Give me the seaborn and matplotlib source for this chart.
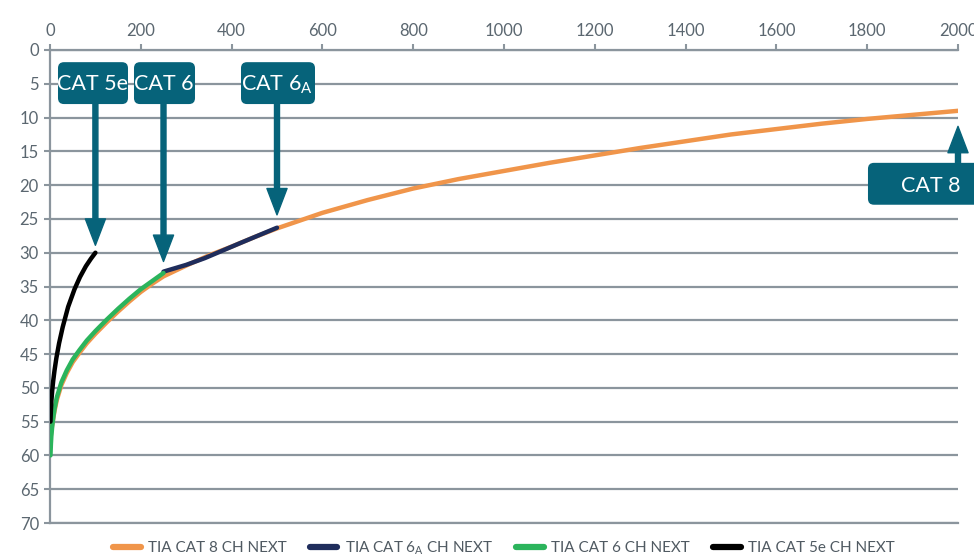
import matplotlib
matplotlib.use("Agg")
import matplotlib.pyplot as plt
import seaborn as sns
import pandas as pd
from matplotlib.patches import FancyBboxPatch

# NEXT limit curves (MHz vs dB)
freq_cat8 = [1, 2, 3, 5, 7, 10, 15, 25, 37, 50, 65, 81, 100, 125, 150, 175, 200, 225, 250,
             300, 350, 400, 450, 500, 600, 700, 800, 900, 1000, 1100, 1200, 1300, 1400,
             1500, 1600, 1700, 1800, 1900, 2000]
next_cat8 = [57.5, 57.0, 56.3, 55.4, 54.6, 53.4, 51.8, 49.6, 47.8, 46.2, 44.8, 43.4, 42.0, 40.3,
             38.7, 37.2, 35.8, 34.6, 33.5, 31.9, 30.4, 29.1, 27.7, 26.4, 24.1, 22.2, 20.5,
             19.1, 17.9, 16.7, 15.6, 14.5, 13.5, 12.5, 11.7, 10.9, 10.2, 9.6, 9.0]

freq_cat6a = [250, 300, 341, 418, 500]
next_cat6a = [32.8, 31.8, 30.8, 28.6, 26.3]

freq_cat6 = [1, 2, 3, 5, 7, 10, 15, 25, 37, 50, 65, 81, 100, 125, 150, 175, 200, 225, 250]
next_cat6 = [60.0, 58.3, 57.1, 55.6, 54.5, 53.1, 51.4, 49.2, 47.4, 45.8, 44.4, 43.0, 41.6,
             39.9, 38.3, 36.8, 35.4, 34.2, 33.0]

freq_cat5e = [1, 2, 3, 5, 7, 10, 14, 20, 28, 40, 54, 66, 79, 90, 100]
next_cat5e = [55.0, 53.3, 52.0, 50.3, 49.0, 47.4, 45.6, 43.4, 41.0, 38.0, 35.4, 33.6, 32.0,
              30.9, 30.0]

labels = ["TIA CAT 8 CH NEXT", r"TIA CAT 6$_{\rm A}$ CH NEXT", "TIA CAT 6 CH NEXT", "TIA CAT 5e CH NEXT"]
colors = ["#f0954a", "#1f2d5c", "#2bb45c", "#000000"]

TEAL = "#06637a"
GRID = "#8b959d"
TICK_TXT = "#5b6770"

sns.set_theme(style="white")
plt.rcParams["font.family"] = ["Lato", "DejaVu Sans"]
plt.rcParams["mathtext.fontset"] = "custom"
plt.rcParams["mathtext.rm"] = "Lato"

fig = plt.figure(figsize=(9.74, 5.57), dpi=100)
ax = fig.add_axes([50 / 974, 1 - 523 / 557, 908 / 974, 473 / 557])

series = [
    (freq_cat8, next_cat8),
    (freq_cat6a, next_cat6a),
    (freq_cat6, next_cat6),
    (freq_cat5e, next_cat5e),
]
for (fx, fy), lab, col in zip(series, labels, colors):
    df = pd.DataFrame({"freq": fx, "next": fy})
    sns.lineplot(data=df, x="freq", y="next", ax=ax, color=col, lw=3.2,
                 label=lab, solid_capstyle="round", solid_joinstyle="round",
                 sort=False, zorder=3)

ax.set_xlim(0, 2000)
ax.set_ylim(70, 0)
ax.set_xticks(range(0, 2001, 200))
ax.set_yticks(range(0, 71, 5))
ax.set_xlabel("")
ax.set_ylabel("")
ax.xaxis.tick_top()
ax.tick_params(axis="x", top=True, bottom=False, labeltop=True, labelbottom=False,
               length=4, width=1.5, color=GRID, labelcolor=TICK_TXT, labelsize=12, pad=4)
ax.tick_params(axis="y", left=True, length=4, width=1.5, color=GRID,
               labelcolor=TICK_TXT, labelsize=12, pad=4)
ax.yaxis.grid(True, color=GRID, lw=1.6)
ax.xaxis.grid(False)
ax.set_axisbelow(True)
for side in ["left", "top", "bottom"]:
    ax.spines[side].set_color(GRID)
    ax.spines[side].set_linewidth(1.6)
ax.spines["right"].set_visible(False)

# callout boxes with arrows
px_x = 2000 / 908
px_y = 70 / 473


def callout(x0, x1, y0, y1, text, tx, ty):
    box = FancyBboxPatch((x0, y0), x1 - x0, y1 - y0,
                         boxstyle=f"round,pad=0,rounding_size={6 * px_x}",
                         mutation_aspect=px_y / px_x, fc=TEAL, ec="none",
                         clip_on=False, zorder=5)
    ax.add_patch(box)
    ax.text(tx, ty, text, color="white", fontsize=15.5, ha="center", va="center",
            zorder=6, clip_on=False)


def arrow(x, y_from, y_to):
    ax.annotate("", xy=(x, y_to), xytext=(x, y_from), annotation_clip=False,
                arrowprops=dict(facecolor=TEAL, edgecolor=TEAL, width=3.6,
                                headwidth=14.5, headlength=19, shrink=0,
                                clip_on=False), zorder=5)


arrow(100, 8, 28.9)
arrow(250, 8, 31.3)
arrow(500, 8, 24.4)
arrow(2000, 16.7, 11.3)

callout(17.6, 171.8, 1.8, 8.0, "CAT 5e", 94.7, 5.1)
callout(185, 319.4, 1.8, 8.0, "CAT 6", 251, 5.1)
callout(420.7, 583.7, 1.8, 8.0, r"CAT 6$_{\rm A}$", 500, 5.1)
callout(1801.7, 2060, 16.7, 22.9, "CAT 8", 1941, 20.1)

ax.get_legend().remove()
handles, labs = ax.get_legend_handles_labels()
leg = fig.legend(handles, labs, loc="center", bbox_to_anchor=(0.5175, 1 - 548 / 557),
                 ncol=4, frameon=False, handlelength=1.8, columnspacing=1.5,
                 handletextpad=0.5,
                 prop={"family": ["Liberation Sans Narrow", "Lato"], "size": 11})
for t in leg.get_texts():
    t.set_color("#505a62")
for h in leg.get_lines():
    h.set_linewidth(4.5)
    h.set_solid_capstyle("round")

fig.savefig("out.png", dpi=100)
